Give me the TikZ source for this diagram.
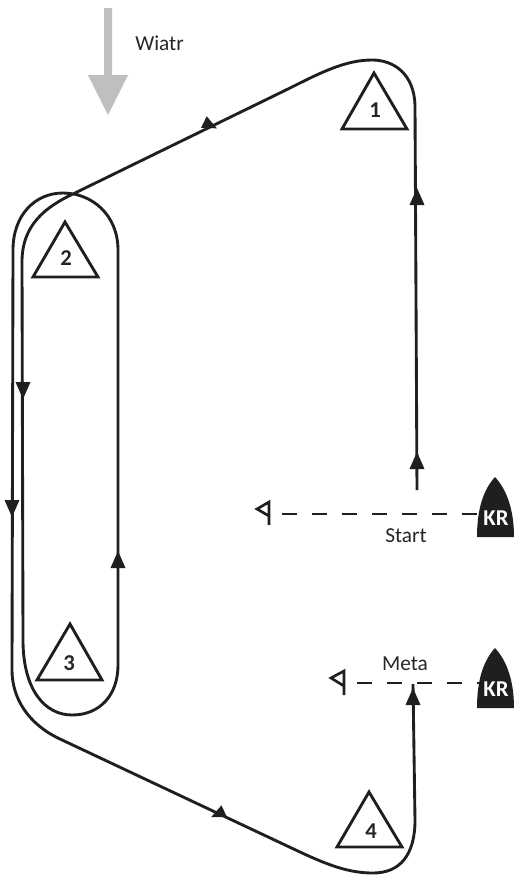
\documentclass[tikz,border=0pt]{standalone}
\usepackage{fontspec}
\setmainfont{Carlito}
\tikzset{
	course/.style={line width=2.15pt, black!88},
	mark tri/.style={line width=2.15pt, black!88, line join=miter},
	pics/headup/.style={code={\fill[black!88] (0,-9) -- (7.5,8) -- (-7.5,8) -- cycle;}},
	wind/.style={fill=black!25},
	kr/.style={fill=black!88},
	krlabel/.style={text=white, font=\fontsize{17}{19}\selectfont\bfseries, inner sep=0pt},
	tag/.style={text=black!85, font=\fontsize{16}{18}\selectfont, inner sep=0pt},
	marknum/.style={text=black!85, font=\fontsize{17}{19}\selectfont\bfseries, inner sep=0pt},
	linia/.style={line width=2.15pt, black!88, dash pattern=on 11pt off 11.5pt},
	flag/.style={line width=2pt, black!88, fill=white, line join=miter}
}
\begin{document}
\begin{tikzpicture}[x=0.75pt, y=-0.75pt, line join=round]
	\useasboundingbox (0,0) rectangle (514,876);
	%%%%%%%%%%%%%%%%%%%%%%%%%%%%%%%%%
	\coordinate (S) at (417,490);
	\coordinate (R1) at (415,105);
	\coordinate (T1) at (372,60);
	\coordinate (L1) at (290,88);
	\coordinate (L2) at (75,193);
	\coordinate (I1) at (22,262);
	\coordinate (I2) at (23,640);
	\coordinate (B3) at (72,715);
	\coordinate (O1) at (118,665);
	\coordinate (O2) at (118,250);
	\coordinate (T2) at (63,193);
	\coordinate (W1) at (13,250);
	\coordinate (W2) at (12,670);
	\coordinate (L3) at (60,739);
	\coordinate (L4) at (300,852);
	\coordinate (B4) at (373,873);
	\coordinate (R2) at (415,820);
	\coordinate (M) at (413,684);
	%%%%%%%%%%%%%%%%%%%%%%%%%%%%%%%%%
	% wind
	\fill[wind] (104,8) -- (112,8) -- (112,75) -- (128,75) -- (108,115) -- (88,75) -- (104,75) -- cycle;
	\node[tag, anchor=west] (wiatr) at (135,43) {Wiatr};
	%%%%%%%%%%%%%%%%%%%%%%%%%%%%%%%%%
	% course
	\draw[course] (S) -- (R1) .. controls (414,75) and (395,60) .. (T1)
		.. controls (345,60) and (320,73) .. (L1) -- (L2)
		.. controls (45,207) and (22,225) .. (I1) -- (I2)
		.. controls (23,690) and (45,715) .. (B3)
		.. controls (100,715) and (118,695) .. (O1) -- (O2)
		.. controls (118,215) and (92,193) .. (T2)
		.. controls (35,193) and (13,215) .. (W1) -- (W2)
		.. controls (12,698) and (28,724) .. (L3) -- (L4)
		.. controls (330,866) and (350,873) .. (B4)
		.. controls (400,873) and (415,855) .. (R2) -- (M);
	\pic at (417,197) {headup};
	\pic at (417,461) {headup};
	\pic at (118,560) {headup};
	\pic at (413,697) {headup};
	\pic[rotate=180] at (23,390) {headup};
	\pic[rotate=180] at (12,508) {headup};
	\pic[rotate=-116, scale=0.85] at (210,125) {headup};
	\pic[rotate=115, scale=0.85] at (218,814) {headup};
	%%%%%%%%%%%%%%%%%%%%%%%%%%%%%%%%%
	% marks
	\draw[mark tri] (374,73) -- (407,129) -- (342,129) -- cycle;
	\draw[mark tri] (65,222) -- (98,277) -- (33,277) -- cycle;
	\draw[mark tri] (70,624) -- (102,680) -- (37,680) -- cycle;
	\draw[mark tri] (369,792) -- (402,847) -- (337,847) -- cycle;
	\node[marknum] (m1) at (375,110) {1};
	\node[marknum] (m2) at (66,258) {2};
	\node[marknum] (m3) at (69,663) {3};
	\node[marknum] (m4) at (371,831) {4};
	%%%%%%%%%%%%%%%%%%%%%%%%%%%%%%%%%
	% start and finish
	\coordinate (K1) at (479,514);
	\coordinate (K2) at (479,683);
	\draw[linia] (282,514) -- (K1);
	\draw[linia] (357,683) -- (K2);
	\draw[flag] (269,525) -- (269,502) -- (257,509) -- (269,516);
	\draw[flag] (344,695) -- (344,671) -- (331,678) -- (344,686);
	\fill[kr] (477,537) .. controls (477,510) and (483,490) .. (495,477)
		.. controls (507,490) and (514,510) .. (514,537) -- cycle;
	\fill[kr] (477,708) .. controls (477,681) and (483,661) .. (495,648)
		.. controls (507,661) and (514,681) .. (514,708) -- cycle;
	\node[krlabel] (kr1) at (496,518) {KR};
	\node[krlabel] (kr2) at (496,689) {KR};
	\node[tag] (start) at (406,536) {Start};
	\node[tag] (meta) at (405,664) {Meta};
\end{tikzpicture}
\end{document}
